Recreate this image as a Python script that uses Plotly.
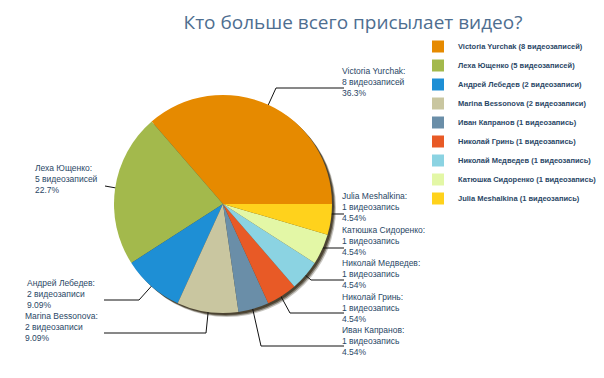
import math
import plotly.graph_objects as go

# ---- data ----
names = ["Victoria Yurchak", "Леха Ющенко", "Андрей Лебедев", "Marina Bessonova",
         "Иван Капранов", "Николай Гринь", "Николай Медведев", "Катюшка Сидоренко",
         "Julia Meshalkina"]
counts = [8, 5, 2, 2, 1, 1, 1, 1, 1]
count_words = ["видеозаписей", "видеозаписей", "видеозаписи", "видеозаписи",
               "видеозапись", "видеозапись", "видеозапись", "видеозапись", "видеозапись"]
pct_labels = ["36.3%", "22.7%", "9.09%", "9.09%", "4.54%", "4.54%", "4.54%", "4.54%", "4.54%"]
colors = ["#E68A00", "#A3B94C", "#1E8FD5", "#C9C6A0", "#6A8EA8",
          "#E85A26", "#8BD3E2", "#E3F7A6", "#FFD21C"]

# ---- layout (pixels) ----
W, H = 604, 378
cx, cy, R = 215, 196, 109
label_pos = [(332, 56), (25, 153), (17, 268), (15, 301), (332, 315),
             (332, 282), (332, 248), (332, 215), (332, 181)]
leader_mid = [[(268, 80), (336, 80)], [(97, 178)], [(131, 292), (96, 292)],
              [(198, 325), (96, 325)], [(253, 338), (336, 338)], [(282, 305), (336, 305)],
              [(303, 272), (336, 272)], [(313, 240), (336, 240)], [(336, 206)]]
inner_r = [0.85, 0.83, 0.85, 0.85, 0.85, 0.85, 0.85, 0.85, 0.64]

text_color = "#2A4766"
total = sum(counts)

fig = go.Figure()
fig.add_trace(go.Pie(
    labels=[f"{n} ({c} {w})" for n, c, w in zip(names, counts, count_words)],
    values=counts,
    marker=dict(colors=colors, line=dict(width=0)),
    sort=False, direction="counterclockwise",
    rotation=90 - 360 * counts[0] / total,
    textinfo="none", hoverinfo="label+percent",
    domain=dict(x=[(cx - R) / W, (cx + R) / W], y=[(H - cy - R) / H, (H - cy + R) / H]),
))

# leader lines, starting point from slice angles
cum = 0
for i, v in enumerate(counts):
    mid = (cum + v / 2) / total * 2 * math.pi
    cum += v
    r = inner_r[i] * R
    px, py = cx + r * math.cos(mid), cy - r * math.sin(mid)
    pts = [(px, py)] + leader_mid[i]
    fig.add_trace(go.Scatter(x=[p[0] for p in pts], y=[p[1] for p in pts], mode="lines",
                             line=dict(color="#111111", width=1), showlegend=False,
                             hoverinfo="skip", xaxis="x", yaxis="y"))
    lx, ly = label_pos[i]
    fig.add_annotation(x=lx, y=ly, xref="x", yref="y", xanchor="left", yanchor="top",
                       align="left", showarrow=False,
                       text=f"{names[i]}:<br>{counts[i]} {count_words[i]}<br>{pct_labels[i]}",
                       font=dict(family="Liberation Sans, Arial", size=8.5, color=text_color))

# soft shadow behind the pie
for off, op in [(4, 0.25), (3, 0.45), (2, 0.6)]:
    fig.add_shape(type="circle", xref="x", yref="y", layer="below",
                  x0=cx - R + off, x1=cx + R + off, y0=cy - R + off, y1=cy + R + off,
                  fillcolor=f"rgba(40,30,10,{op})", line=dict(width=0))

fig.update_layout(
    width=W, height=H, margin=dict(l=0, r=0, t=0, b=0),
    paper_bgcolor="white", plot_bgcolor="rgba(0,0,0,0)",
    xaxis=dict(range=[0, W], visible=False, domain=[0, 1], fixedrange=True),
    yaxis=dict(range=[H, 0], visible=False, domain=[0, 1], fixedrange=True),
    title=dict(text="Кто больше всего присылает видео?", x=345 / W, xanchor="center",
               y=1 - 14 / H, yanchor="middle",
               font=dict(family="Open Sans, Noto Sans", size=19, color="#4E6E90")),
    legend=dict(x=410 / W, y=1 - 24 / H, xanchor="left", yanchor="top",
                font=dict(family="Liberation Sans, Arial", size=7.5, color=text_color, weight="bold"),
                itemwidth=30, tracegroupgap=0, bgcolor="rgba(0,0,0,0)"),
)

fig.write_html("out.html")
